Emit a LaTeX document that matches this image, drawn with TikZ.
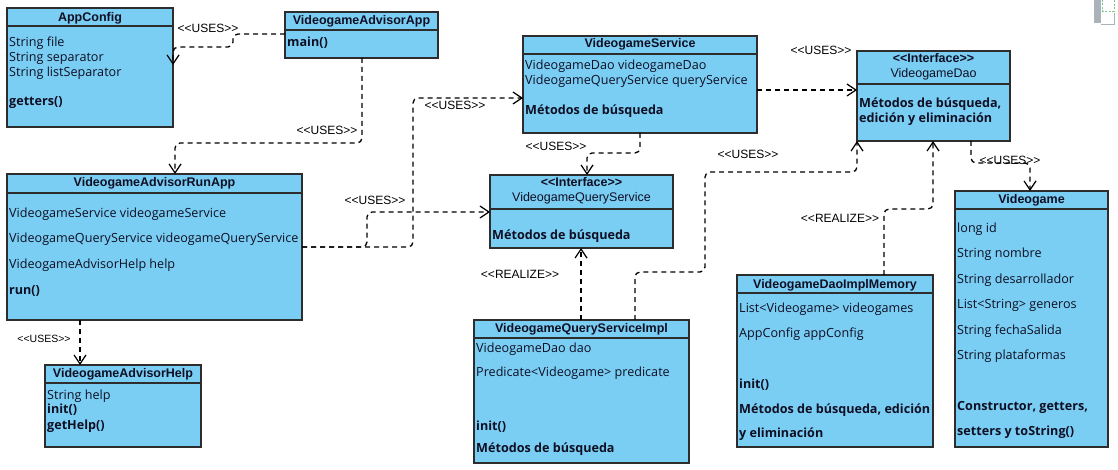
\documentclass[tikz,border=0pt]{standalone}
\usepackage{fontspec}
\setmainfont{Open Sans}
\newfontfamily\lblfont{Liberation Sans}
\usetikzlibrary{arrows.meta,calc}
\definecolor{boxfill}{RGB}{122,206,244}
\definecolor{boxline}{RGB}{45,45,45}
\definecolor{txt}{RGB}{15,15,35}
\definecolor{icongray}{RGB}{170,178,186}
\definecolor{icongreen}{RGB}{120,200,140}
\tikzset{
  umlbox/.style={draw=boxline, fill=boxfill, line width=1.2pt, inner sep=0pt, outer sep=0pt, anchor=north west},
  divline/.style={draw=boxline, line width=1.2pt},
  ttl/.style={font=\lblfont\bfseries\fontsize{12.5}{14}\selectfont, anchor=base, inner sep=0pt, text=txt},
  ittl/.style={font=\lblfont\fontsize{12.5}{14}\selectfont, anchor=base, inner sep=0pt, text=txt},
  attr/.style={font=\fontsize{12.6}{14}\selectfont, anchor=base west, inner sep=0pt, text=txt},
  meth/.style={font=\bfseries\fontsize{12.6}{14}\selectfont, anchor=base west, inner sep=0pt, text=txt},
  lbl/.style={font=\lblfont\fontsize{12}{14}\selectfont, inner sep=0pt, text=black},
  dep/.style={draw=black, line width=1.3pt, dash pattern=on 5pt off 4pt, rounded corners=5pt,
    -{Straight Barb[length=9pt,width=12pt,line width=1.2pt]}},
}
\newcommand\umlcls[6]{%
  \pgfmathsetmacro\bw{#4-#2}\pgfmathsetmacro\bh{#5-#3}%
  \node[umlbox, minimum width=\bw pt, minimum height=\bh pt] (#1) at (#2,#3) {};
  \draw[divline] (#2,#6) -- (#4,#6);
}
\begin{document}
\begin{tikzpicture}[x=1pt,y=-1pt]
\useasboundingbox (0,0) rectangle (1118,470);
\fill[white] (0,0) rectangle (1118,470);

% icon top right
\fill[icongray] (1094,0) rectangle (1101,23);
\draw[icongray, line width=1pt] (1101,25) -- (1114,25) -- (1114,13);
\draw[icongreen, line width=0.8pt, dash pattern=on 2pt off 1.5pt] (1102,0) -- (1102,11) -- (1114,11) -- (1114,0);

% classes
\umlcls{appcfg}{7}{8}{173}{127}{26}
\node[ttl] (appcfgT) at (90,22) {AppConfig};
\node[attr] (appcfgA1) at (9,47) {String file};
\node[attr] (appcfgA2) at (9,62) {String separator};
\node[attr] (appcfgA3) at (9,77) {String listSeparator};
\node[meth] (appcfgM1) at (9,106) {getters()};

\umlcls{app}{285}{12}{438}{58}{30}
\node[ttl] (appT) at (361.5,25) {VideogameAdvisorApp};
\node[meth] (appM1) at (287,47) {main()};

\umlcls{svc}{523}{36}{757}{133}{54}
\node[ttl] (svcT) at (640,48) {VideogameService};
\node[attr] (svcA1) at (525,70) {VideogameDao videogameDao};
\node[attr] (svcA2) at (525,85) {VideogameQueryService queryService};
\node[meth] (svcM1) at (525,115) {Métodos de búsqueda};

\umlcls{dao}{857}{51}{1010}{141}{84}
\node[ttl] (daoS) at (933.5,63) {<{}<Interface>{}>};
\node[ittl] (daoT) at (933.5,78) {VideogameDao};
\node[meth] (daoM1) at (859,108) {Métodos de búsqueda,};
\node[meth] (daoM2) at (859,123) {edición y eliminación};

\umlcls{run}{7}{174}{302}{320}{193}
\node[ttl] (runT) at (154.5,187) {VideogameAdvisorRunApp};
\node[attr] (runA1) at (9,218) {VideogameService videogameService};
\node[attr] (runA2) at (9,243) {VideogameQueryService videogameQueryService};
\node[attr] (runA3) at (9,268) {VideogameAdvisorHelp help};
\node[meth] (runM1) at (9,294) {run()};

\umlcls{help}{45}{365}{201}{447}{383}
\node[ttl] (helpT) at (123,377) {VideogameAdvisorHelp};
\node[attr] (helpA1) at (47,399) {String help};
\node[meth] (helpM1) at (47,413) {init()};
\node[meth] (helpM2) at (47,429) {getHelp()};

\umlcls{qs}{490}{175}{673}{248}{209}
\node[ttl] (qsS) at (581.5,187) {<{}<Interface>{}>};
\node[ittl] (qsT) at (581.5,202) {VideogameQueryService};
\node[meth] (qsM1) at (492,240) {Métodos de búsqueda};

\umlcls{qsi}{474}{320}{689}{463}{338}
\node[ttl] (qsiT) at (581.5,332) {VideogameQueryServiceImpl};
\node[attr] (qsiA1) at (476,352) {VideogameDao dao};
\node[attr] (qsiA2) at (476,376) {Predicate<Videogame> predicate};
\node[meth] (qsiM1) at (476,430) {init()};
\node[meth] (qsiM2) at (476,452) {Métodos de búsqueda};

\umlcls{daoimpl}{737}{275}{933}{447}{293}
\node[ttl] (daoimplT) at (835,288) {VideogameDaoImplMemory};
\node[attr] (daoimplA1) at (739,312) {List<Videogame> videogames};
\node[attr] (daoimplA2) at (739,337) {AppConfig appConfig};
\node[meth] (daoimplM1) at (739,388) {init()};
\node[meth] (daoimplM2) at (739,413) {Métodos de búsqueda, edición};
\node[meth] (daoimplM3) at (739,437) {y eliminación};

\umlcls{vg}{955}{191}{1108}{447}{209}
\node[ttl] (vgT) at (1031.5,204) {Videogame};
\node[attr] (vgA1) at (957,233) {long id};
\node[attr] (vgA2) at (957,258) {String nombre};
\node[attr] (vgA3) at (957,283) {String desarrollador};
\node[attr] (vgA4) at (957,308) {List<String> generos};
\node[attr] (vgA5) at (957,334) {String fechaSalida};
\node[attr] (vgA6) at (957,359) {String plataformas};
\node[meth] (vgM1) at (957,410) {Constructor, getters,};
\node[meth] (vgM2) at (957,435) {setters y toString()};

% connectors
\draw[dep] ($(app.north west)+(0,22)$) -- (233,34) -- (233,47) -- ($(appcfg.north east)+(0,39)$) -- ($(appcfg.north east)+(0,57)$);
\draw[dep] ($(app.south west)+(77,0)$) -- (362,143) -- (175,143) -- ($(run.north west)+(168,0)$);
\draw[dep] ($(run.north east)+(0,73)$) -- (413,247) -- (413,98) -- ($(svc.north west)+(0,62)$);
\draw[dep] ($(run.north east)+(0,73)$) -- (367,247) -- (367,212) -- ($(qs.north west)+(0,37)$);
\draw[dep] ($(svc.south west)+(117,0)$) -- (640,153) -- (587,153) -- ($(qs.north west)+(97,0)$);
\draw[dep] ($(svc.north east)+(0,54)$) -- ($(dao.north west)+(0,39)$);
\draw[dep] ($(qsi.north west)+(161,0)$) -- (635,272) -- (705,272) -- (705,172) -- (857,172) -- (dao.south west);
\draw[dep] ($(qsi.north west)+(107,0)$) -- ($(qs.south west)+(91,0)$);
\draw[dep] ($(daoimpl.north west)+(147,0)$) -- (884,209) -- (933,209) -- ($(dao.south west)+(76,0)$);
\draw[dep] ($(dao.south west)+(114,0)$) -- (971,163) -- (1030,163) -- ($(vg.north west)+(75,0)$);
\draw[dep] ($(run.south west)+(73,0)$) -- ($(help.north west)+(35,0)$);

% labels
\node[lbl] (l1) at (208,28) {<{}<USES>{}>};
\node[lbl] (l2) at (327,130) {<{}<USES>{}>};
\node[lbl] (l3) at (455,105) {<{}<USES>{}>};
\node[lbl] (l4) at (375,200) {<{}<USES>{}>};
\node[lbl] (l5) at (556,146) {<{}<USES>{}>};
\node[lbl] (l6) at (821,50) {<{}<USES>{}>};
\node[lbl] (l7) at (748,154) {<{}<USES>{}>};
\node[lbl] (l8) at (520,274) {<{}<REALIZE>{}>};
\node[lbl] (l9) at (840,218) {<{}<REALIZE>{}>};
\node[lbl] (l10) at (1010,160) {<{}<USES>{}>};
\node[lbl, font=\lblfont\fontsize{10.5}{12}\selectfont] (l11) at (44,339) {<{}<USES>{}>};
\end{tikzpicture}
\end{document}
